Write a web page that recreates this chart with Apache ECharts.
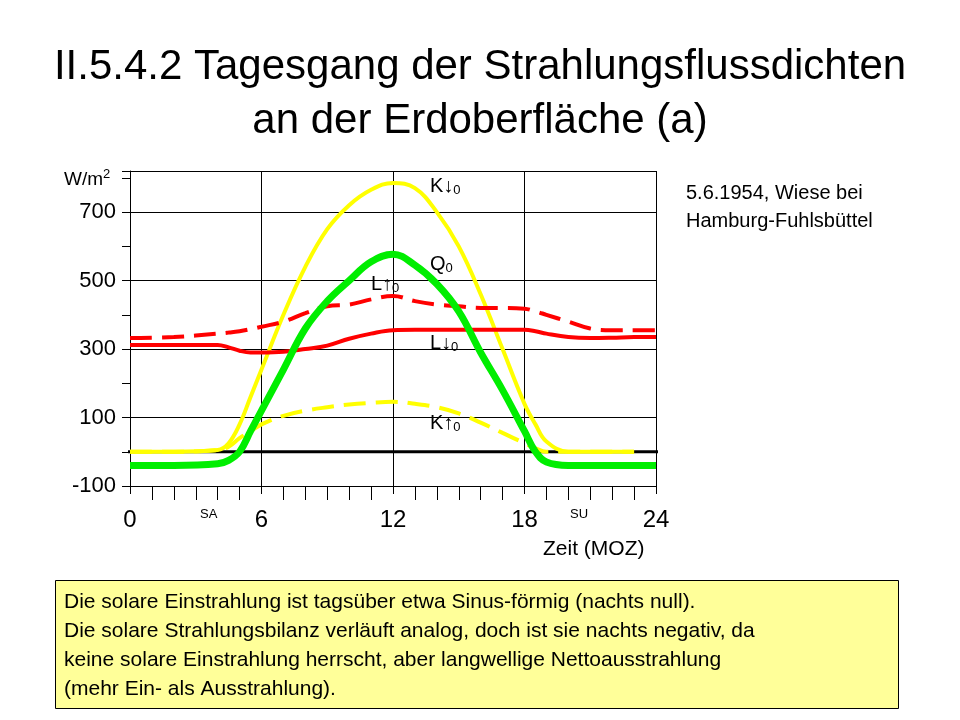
<!DOCTYPE html>
<html><head><meta charset="utf-8">
<script src="https://cdn.jsdelivr.net/npm/echarts@6/dist/echarts.min.js"></script>
<style>body{margin:0;background:#fff}#main{width:960px;height:720px}</style>
</head><body><div id="main"></div>
<script>
// Stunden (MOZ)
const hours = [0, 2, 4, 4.5, 5, 5.5, 6, 7, 8, 9, 10, 11, 12, 13, 14, 15, 16, 17, 18, 18.5, 19, 20, 21, 22, 23, 24];
const kDown = [0, 0, 5, 25, 80, 160, 240, 400, 540, 650, 720, 765, 785, 770, 700, 600, 460, 300, 140, 80, 30, 0, 0, 0, 0, null];
const kUp = [0, 0, 5, 15, 40, 60, 80, 105, 120, 130, 138, 143, 146, 140, 130, 112, 85, 55, 25, 10, 0, 0, 0, 0, 0, null];
const q0 = [-40, -40, -35, -25, 0, 60, 120, 240, 360, 440, 500, 555, 577, 545, 490, 410, 290, 180, 60, 0, -30, -40, -40, -40, -40, -40];
const lUp = [332, 335, 345, 348, 352, 358, 365, 380, 405, 425, 430, 445, 455, 440, 430, 425, 420, 420, 418, 410, 400, 380, 360, 355, 355, 355];
const lDown = [312, 312, 312, 305, 295, 290, 290, 292, 300, 310, 330, 345, 355, 356, 356, 356, 356, 356, 356, 352, 345, 335, 332, 333, 335, 335];
const xTicks = [0, 6, 12, 18, 24];
const yTicks = [-100, 100, 300, 500, 700];

const pairs = v => hours.map((h, i) => [h, v[i]]).filter(p => p[1] !== null);
const F = 'Liberation Sans, Arial, sans-serif';
const lab = (x, y, t, s) => ({type: 'text', left: x, top: y, style: {text: t, font: '20px ' + F, fill: '#000', rich: s}});
const sub = {s: {fontSize: 13, fontFamily: F, verticalAlign: 'bottom', padding: [8, 0, 0, 0]}, n: {fontSize: 20, fontFamily: F}};

const chart = echarts.init(document.getElementById('main'));
chart.setOption({
  animation: false,
  grid: {left: 130, right: 304, top: 171, bottom: 234},
  xAxis: {
    type: 'value', min: 0, max: 24, interval: 6,
    axisLine: {onZero: false, lineStyle: {color: '#000'}},
    axisTick: {show: true, lineStyle: {color: '#000'}, length: 8},
    minorTick: {show: true, splitNumber: 6, length: 14, lineStyle: {color: '#000'}},
    axisLabel: {color: '#000', fontSize: 24, fontFamily: F, margin: 22,
      formatter: v => xTicks.includes(v) ? String(v) : ''},
    splitLine: {show: true, lineStyle: {color: '#000', width: 1}}
  },
  yAxis: {
    type: 'value', min: -100, max: 820, interval: 200,
    axisLine: {show: true, lineStyle: {color: '#000'}},
    axisTick: {show: true, inside: false, length: 8, lineStyle: {color: '#000'}},
    minorTick: {show: true, splitNumber: 2, length: 8, lineStyle: {color: '#000'}},
    axisLabel: {color: '#000', fontSize: 22, fontFamily: F, margin: 14,
      formatter: v => yTicks.includes(v) ? String(v) : ''},
    splitLine: {show: true, lineStyle: {color: '#000', width: 1}}
  },
  series: [
    {type: 'line', data: [[-0.3, 0], [24.3, 0]], showSymbol: false, lineStyle: {color: '#000', width: 3}, z: 1},
    {name: 'K↓0', type: 'line', data: pairs(kDown), smooth: 0.4, showSymbol: false, lineStyle: {color: '#ffff00', width: 4}},
    {name: 'K↑0', type: 'line', data: pairs(kUp), smooth: 0.4, showSymbol: false, lineStyle: {color: '#ffff00', width: 4, type: [22, 10]}},
    {name: 'L↑0', type: 'line', data: pairs(lUp), smooth: 0.4, showSymbol: false, lineStyle: {color: '#ff0000', width: 4, type: [22, 10]}},
    {name: 'L↓0', type: 'line', data: pairs(lDown), smooth: 0.4, showSymbol: false, lineStyle: {color: '#ff0000', width: 4}},
    {name: 'Q0', type: 'line', data: pairs(q0), smooth: 0.4, showSymbol: false, lineStyle: {color: '#00ee00', width: 7}}
  ],
  graphic: [
    {type: 'text', left: 'center', top: 40, style: {text: 'II.5.4.2 Tagesgang der Strahlungsflussdichten\nan der Erdoberfläche (a)', font: '42px ' + F, fill: '#000', textAlign: 'center', lineHeight: 54}},
    {type: 'text', left: 64, top: 168, style: {text: '{n|W/m}{p|2}', rich: {n: {fontSize: 19, fontFamily: F}, p: {fontSize: 13, fontFamily: F, verticalAlign: 'top', padding: [0, 0, 10, 0]}}}},
    lab(430, 176, '{n|K↓}{s|0}', sub),
    lab(430, 254, '{n|Q}{s|0}', sub),
    lab(371, 274, '{n|L↑}{s|0}', sub),
    lab(430, 333, '{n|L↓}{s|0}', sub),
    lab(430, 413, '{n|K↑}{s|0}', sub),
    {type: 'text', left: 200, top: 508, style: {text: 'SA', font: '13px ' + F, fill: '#000'}},
    {type: 'text', left: 570, top: 508, style: {text: 'SU', font: '13px ' + F, fill: '#000'}},
    {type: 'text', left: 543, top: 539, style: {text: 'Zeit (MOZ)', font: '21px ' + F, fill: '#000'}},
    {type: 'text', left: 686, top: 179, style: {text: '5.6.1954, Wiese bei\nHamburg-Fuhlsbüttel', font: '20px ' + F, fill: '#000', lineHeight: 28}},
    {type: 'rect', left: 55, top: 580, shape: {width: 843, height: 128}, style: {fill: '#ffff99', stroke: '#000', lineWidth: 1}},
    {type: 'text', left: 64, top: 588, style: {text: 'Die solare Einstrahlung ist tagsüber etwa Sinus-förmig (nachts null).\nDie solare Strahlungsbilanz verläuft analog, doch ist sie nachts negativ, da\nkeine solare Einstrahlung herrscht, aber langwellige Nettoausstrahlung\n(mehr Ein- als Ausstrahlung).', font: '21px ' + F, fill: '#000', lineHeight: 29}}
  ]
});
</script></body></html>
